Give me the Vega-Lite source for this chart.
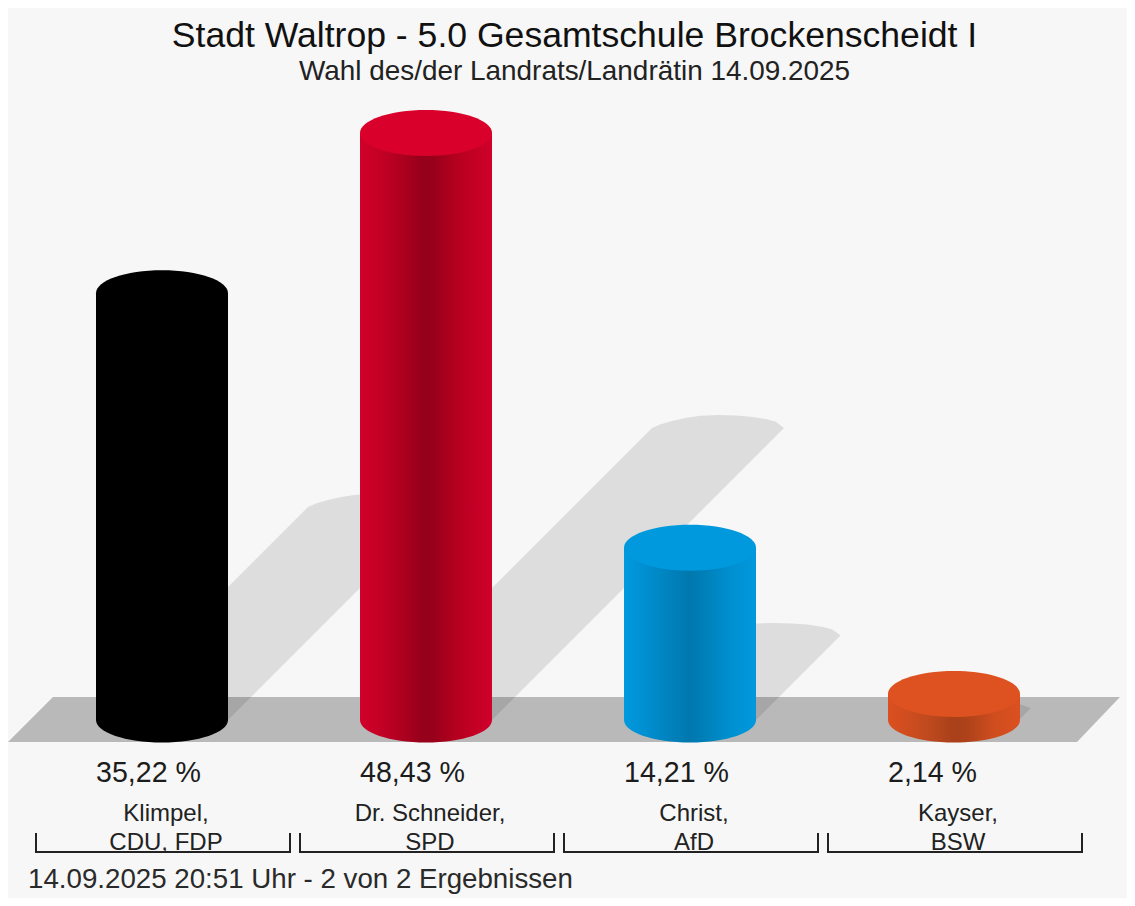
{
"$schema":"https://vega.github.io/schema/vega-lite/v6.json",
"autosize":"none","padding":0,"width":1135,"height":906,"background":"#ffffff",
"config":{"view":{"stroke":null},"axis":{"disable":true},"font":"Liberation Sans"},
"title":{"text":"Stadt Waltrop - 5.0 Gesamtschule Brockenscheidt I","subtitle":"Wahl des/der Landrats/Landrätin 14.09.2025","anchor":"middle","font":"Liberation Sans","fontSize":35.6,"fontWeight":"normal","color":"#111111","subtitleFont":"Liberation Sans","subtitleFontSize":27.9,"subtitleColor":"#222222","subtitlePadding":4,"offset":-86,"dx":7},
"datasets":{
"results":[
{"cand":"Klimpel","share":35.22,"label":"35,22 %","name":"Klimpel,\nCDU, FDP"},
{"cand":"Dr. Schneider","share":48.43,"label":"48,43 %","name":"Dr. Schneider,\nSPD"},
{"cand":"Christ","share":14.21,"label":"14,21 %","name":"Christ,\nAfD"},
{"cand":"Kayser","share":2.14,"label":"2,14 %","name":"Kayser,\nBSW"}
],
"shadows":[
{"s":"a","x":228,"y":587,"y2":720},{"s":"a","x":308,"y":507,"y2":640},{"s":"a","x":316,"y":503.5,"y2":632},{"s":"a","x":326,"y":500.5,"y2":622},{"s":"a","x":341,"y":497,"y2":607},{"s":"a","x":356,"y":494.8,"y2":592},{"s":"a","x":374,"y":494,"y2":574},{"s":"a","x":392,"y":494.5,"y2":556},{"s":"a","x":407,"y":495.7,"y2":541},{"s":"a","x":422,"y":498.1,"y2":526},{"s":"a","x":432,"y":500.8,"y2":516},{"s":"a","x":440,"y":507,"y2":507},
{"s":"b","x":492,"y":588,"y2":720},{"s":"b","x":652,"y":428,"y2":560},{"s":"b","x":660,"y":424.5,"y2":552},{"s":"b","x":670,"y":421.5,"y2":542},{"s":"b","x":685,"y":418,"y2":527},{"s":"b","x":700,"y":415.8,"y2":512},{"s":"b","x":718,"y":415,"y2":494},{"s":"b","x":736,"y":415.5,"y2":476},{"s":"b","x":751,"y":416.7,"y2":461},{"s":"b","x":766,"y":419.1,"y2":446},{"s":"b","x":776,"y":421.8,"y2":436},{"s":"b","x":784,"y":428,"y2":428},
{"s":"c","x":708,"y":635,"y2":720},{"s":"c","x":716,"y":629.3,"y2":720},{"s":"c","x":726,"y":626.8,"y2":720},{"s":"c","x":741,"y":624.6,"y2":720},{"s":"c","x":756,"y":623.5,"y2":720},{"s":"c","x":774,"y":623,"y2":702},{"s":"c","x":792,"y":623.5,"y2":684},{"s":"c","x":807,"y":624.6,"y2":669},{"s":"c","x":822,"y":626.8,"y2":654},{"s":"c","x":832,"y":629.3,"y2":644},{"s":"c","x":840,"y":635,"y2":636},
{"s":"d","x":965,"y":703,"y2":720},{"s":"d","x":1000,"y":703,"y2":720},{"s":"d","x":1019,"y":704,"y2":720},{"s":"d","x":1031,"y":708,"y2":708}
]
},
"resolve":{"scale":{"x":"independent","y":"independent"}},
"layer":[
{"data":{"values":[{"x":8,"x2":1127,"y":8,"y2":898}]},
 "mark":{"type":"rect","fill":"#f7f7f7"},
 "encoding":{"x":{"field":"x","type":"quantitative","scale":{"domain":[0,1135]}},"x2":{"field":"x2"},"y":{"field":"y","type":"quantitative","scale":{"domain":[906,0]}},"y2":{"field":"y2"}}},
{"data":{"values":[{"x":8,"y":742,"y2":742},{"x":53,"y":697,"y2":742},{"x":1077,"y":697,"y2":742},{"x":1120,"y":697,"y2":697}]},
 "mark":{"type":"area","fill":"#000000","opacity":0.25,"interpolate":"linear"},
 "encoding":{"x":{"field":"x","type":"quantitative","scale":{"domain":[0,1135]}},"y":{"field":"y","type":"quantitative","scale":{"domain":[906,0]}},"y2":{"field":"y2"}}},
{"data":{"name":"shadows"},
 "mark":{"type":"area","fill":"#000000","opacity":0.1,"interpolate":"linear"},
 "encoding":{"x":{"field":"x","type":"quantitative","scale":{"domain":[0,1135]}},"y":{"field":"y","type":"quantitative","scale":{"domain":[906,0]},"stack":null},"y2":{"field":"y2"},"detail":{"field":"s"}}},
{"data":{"name":"results"},
 "mark":{"type":"bar"},
 "encoding":{
  "x":{"field":"cand","type":"nominal","sort":null,"scale":{"type":"band","range":[96,1020],"paddingInner":0.5,"paddingOuter":0}},
  "y":{"field":"share","type":"quantitative","stack":null,"scale":{"domain":[-15.347,59.406],"zero":false,"nice":false}},
  "y2":{"datum":0},
  "fill":{"condition":[
   {"test":"datum.cand==='Dr. Schneider'","value":{"gradient":"linear","x1":0,"x2":1,"y1":0,"y2":0,"stops":[{"offset":0,"color":"#d0002a"},{"offset":0.12,"color":"#c80026"},{"offset":0.3,"color":"#b00020"},{"offset":0.47,"color":"#96001a"},{"offset":0.55,"color":"#96001a"},{"offset":0.72,"color":"#b4001f"},{"offset":1,"color":"#d0002a"}]}},
   {"test":"datum.cand==='Christ'","value":{"gradient":"linear","x1":0,"x2":1,"y1":0,"y2":0,"stops":[{"offset":0,"color":"#009ade"},{"offset":0.15,"color":"#0090d2"},{"offset":0.3,"color":"#0085c2"},{"offset":0.5,"color":"#0078ae"},{"offset":0.6,"color":"#007fb8"},{"offset":0.8,"color":"#008fd0"},{"offset":1,"color":"#0098dc"}]}},
   {"test":"datum.cand==='Kayser'","value":{"gradient":"linear","x1":0,"x2":1,"y1":0,"y2":0,"stops":[{"offset":0,"color":"#dc5020"},{"offset":0.3,"color":"#c04a1e"},{"offset":0.5,"color":"#a8401a"},{"offset":0.6,"color":"#ae421a"},{"offset":0.8,"color":"#cf4d1f"},{"offset":1,"color":"#dc5020"}]}}
  ],"value":"#000000"}
 }},
{"data":{"name":"results"},
 "mark":{"type":"point","filled":true,"opacity":1,"size":17424,"shape":"M-1,0A1,0.341 0 1 1 1,0A1,0.341 0 1 1 -1,0Z"},
 "encoding":{
  "x":{"field":"cand","type":"nominal","sort":null,"scale":{"type":"band","range":[96,1020],"paddingInner":0.5,"paddingOuter":0}},
  "y":{"datum":0,"type":"quantitative","scale":{"domain":[-15.347,59.406],"zero":false,"nice":false}},
  "fill":{"condition":[
   {"test":"datum.cand==='Dr. Schneider'","value":{"gradient":"linear","x1":0,"x2":1,"y1":0,"y2":0,"stops":[{"offset":0,"color":"#d0002a"},{"offset":0.12,"color":"#c80026"},{"offset":0.3,"color":"#b00020"},{"offset":0.47,"color":"#96001a"},{"offset":0.55,"color":"#96001a"},{"offset":0.72,"color":"#b4001f"},{"offset":1,"color":"#d0002a"}]}},
   {"test":"datum.cand==='Christ'","value":{"gradient":"linear","x1":0,"x2":1,"y1":0,"y2":0,"stops":[{"offset":0,"color":"#009ade"},{"offset":0.15,"color":"#0090d2"},{"offset":0.3,"color":"#0085c2"},{"offset":0.5,"color":"#0078ae"},{"offset":0.6,"color":"#007fb8"},{"offset":0.8,"color":"#008fd0"},{"offset":1,"color":"#0098dc"}]}},
   {"test":"datum.cand==='Kayser'","value":{"gradient":"linear","x1":0,"x2":1,"y1":0,"y2":0,"stops":[{"offset":0,"color":"#dc5020"},{"offset":0.3,"color":"#c04a1e"},{"offset":0.5,"color":"#a8401a"},{"offset":0.6,"color":"#ae421a"},{"offset":0.8,"color":"#cf4d1f"},{"offset":1,"color":"#dc5020"}]}}
  ],"value":"#000000"}
 }},
{"data":{"name":"results"},
 "mark":{"type":"point","filled":true,"opacity":1,"size":17424,"shape":"M-1,0A1,0.348 0 1 1 1,0A1,0.348 0 1 1 -1,0Z"},
 "encoding":{
  "x":{"field":"cand","type":"nominal","sort":null,"scale":{"type":"band","range":[96,1020],"paddingInner":0.5,"paddingOuter":0}},
  "y":{"field":"share","type":"quantitative","scale":{"domain":[-15.347,59.406],"zero":false,"nice":false}},
  "fill":{"condition":[
   {"test":"datum.cand==='Dr. Schneider'","value":"#d9002b"},
   {"test":"datum.cand==='Christ'","value":"#0099dd"},
   {"test":"datum.cand==='Kayser'","value":"#dd5220"}
  ],"value":"#000000"}
 }},
{"data":{"name":"results"},
 "mark":{"type":"text","align":"left","baseline":"middle","fontSize":28.6,"font":"Liberation Sans","color":"#1c1c1c"},
 "encoding":{
  "x":{"field":"cand","type":"nominal","sort":null,"bandPosition":0,"scale":{"type":"band","range":[96,1020],"paddingInner":0.5,"paddingOuter":0}},
  "y":{"datum":773,"type":"quantitative","scale":{"domain":[906,0]}},
  "text":{"field":"label"}
 }},
{"data":{"name":"results"},
 "mark":{"type":"text","align":"center","baseline":"middle","fontSize":24,"font":"Liberation Sans","color":"#222222","lineBreak":"\n","lineHeight":29,"dx":4},
 "encoding":{
  "x":{"field":"cand","type":"nominal","sort":null,"scale":{"type":"band","range":[96,1020],"paddingInner":0.5,"paddingOuter":0}},
  "y":{"datum":814,"type":"quantitative","scale":{"domain":[906,0]}},
  "text":{"field":"name"}
 }},
{"data":{"name":"results"},
 "mark":{"type":"point","filled":false,"opacity":1,"size":64516,"stroke":"#222222","strokeWidth":2,"xOffset":1,"shape":"M-1,-0.15L-1,0L1,0L1,-0.15"},
 "encoding":{
  "x":{"field":"cand","type":"nominal","sort":null,"scale":{"type":"band","range":[96,1020],"paddingInner":0.5,"paddingOuter":0}},
  "y":{"datum":852,"type":"quantitative","scale":{"domain":[906,0]}}
 }},
{"data":{"values":[{"x":28,"y":880,"t":"14.09.2025 20:51 Uhr - 2 von 2 Ergebnissen"}]},
 "mark":{"type":"text","align":"left","baseline":"middle","fontSize":27.7,"font":"Liberation Sans","color":"#2a2a2a"},
 "encoding":{"x":{"field":"x","type":"quantitative","scale":{"domain":[0,1135]}},"y":{"field":"y","type":"quantitative","scale":{"domain":[906,0]}},"text":{"field":"t"}}}
]
}
